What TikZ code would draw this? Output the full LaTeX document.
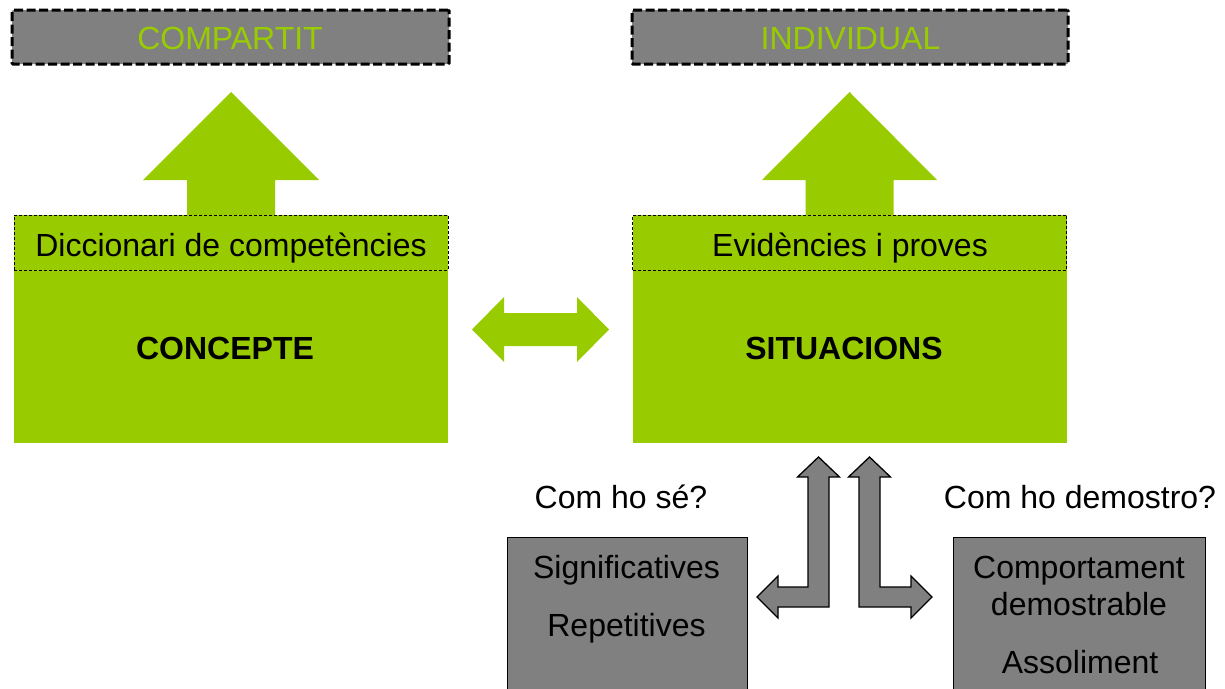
\documentclass[tikz,border=0pt]{standalone}
\usepackage{fontspec}
\setmainfont{Liberation Sans}
\definecolor{lgreen}{HTML}{99CC00}
\definecolor{mgray}{HTML}{808080}
\begin{document}
\begin{tikzpicture}[x=1pt,y=-1pt,
  txt/.style={inner sep=0pt, anchor=base, font=\fontsize{32}{38}\selectfont},
  btxt/.style={inner sep=0pt, anchor=base, font=\fontsize{32}{38}\selectfont\bfseries},
  topbox/.style={draw=black, fill=mgray, line width=3pt, dash pattern=on 9pt off 3.5pt, rounded corners=1pt, inner sep=0pt, minimum height=54pt},
  greenbody/.style={fill=lgreen, inner sep=0pt, minimum width=434pt, minimum height=228pt},
  greenhead/.style={draw=black, line width=0.9pt, dash pattern=on 3pt off 2pt, inner sep=0pt, minimum width=434pt, minimum height=55pt},
  graybox/.style={draw=black, fill=mgray, line width=0.9pt, inner sep=0pt, minimum height=163pt},
  greenarrow/.style={fill=lgreen},
  grayarrow/.style={fill=mgray, draw=black, line width=1.3pt, line join=miter}
]
\useasboundingbox (0,0) rectangle (1225,688);
\clip (0,0) rectangle (1225,688);

% top dashed boxes
\node[topbox, minimum width=437pt] (top1) at (230.5,37) {};
\node[topbox, minimum width=436pt] (top2) at (850,37) {};
\node[txt, text=lgreen] (t1) at (230,49.5) {COMPARTIT};
\node[txt, text=lgreen] (t2) at (850.5,49.5) {INDIVIDUAL};

% up arrows
\fill[greenarrow] (231,92) -- (319,180) -- (275,180) -- (275,217) -- (187,217) -- (187,180) -- (143,180) -- cycle;
\fill[greenarrow] (849.5,92) -- (937,180) -- (893.5,180) -- (893.5,217) -- (805.5,217) -- (805.5,180) -- (762,180) -- cycle;

% green boxes
\node[greenbody] (body1) at (231,329) {};
\node[greenhead] (head1) at (231,242.5) {};
\node[greenbody] (body2) at (849.5,329) {};
\node[greenhead] (head2) at (849.5,242.5) {};
\node[txt] (d1) at (231,256) {Diccionari de competències};
\node[txt] (d2) at (850,256) {Evidències i proves};
\node[btxt] (c1) at (225,359.5) {CONCEPTE};
\node[btxt] (c2) at (844,359.5) {SITUACIONS};

% double arrow
\fill[greenarrow] (472,329.5) -- (504,297) -- (504,313) -- (577,313) -- (577,297) -- (609,329.5) -- (577,362) -- (577,346) -- (504,346) -- (504,362) -- cycle;

% bent arrows
\draw[grayarrow] (818.5,457) -- (839.5,477) -- (829,477) -- (829,607) -- (778,607) -- (778,618) -- (757,597) -- (778,576) -- (778,587) -- (808,587) -- (808,477) -- (797.5,477) -- cycle;
\draw[grayarrow] (869.5,457) -- (890.5,477) -- (880,477) -- (880,587) -- (911,587) -- (911,576) -- (932,597) -- (911,618) -- (911,607) -- (859,607) -- (859,477) -- (848.5,477) -- cycle;

% bottom gray boxes
\node[graybox, minimum width=240pt] (g1) at (627,618.5) {};
\node[graybox, minimum width=252pt] (g2) at (1079,618.5) {};
\node[txt] (q1) at (621,508) {Com ho sé?};
\node[txt] (q2) at (1080,508) {Com ho demostro?};
\node[txt] (s1) at (626.5,578) {Significatives};
\node[txt] (s2) at (626.5,636) {Repetitives};
\node[txt] (r1) at (1079,578) {Comportament};
\node[txt] (r2) at (1079,615) {demostrable};
\node[txt] (r3) at (1080,673) {Assoliment};
\end{tikzpicture}
\end{document}
